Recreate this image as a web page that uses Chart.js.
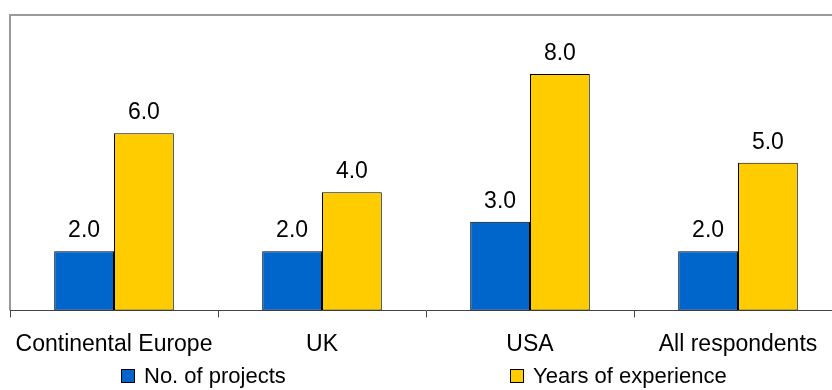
<!DOCTYPE html>
<html>
<head>
<meta charset="utf-8">
<script src="https://cdn.jsdelivr.net/npm/chart.js@4.4.0/dist/chart.umd.min.js"></script>
<style>
  html, body { margin: 0; padding: 0; background: #fff; overflow: hidden; }
  #wrap { width: 842px; height: 390px; }
</style>
</head>
<body>
<div id="wrap"><canvas id="chart" width="842" height="390"></canvas></div>
<script>
  // Chart data
  const regions = ["Continental Europe", "UK", "USA", "All respondents"];
  const projects = [2.0, 2.0, 3.0, 2.0];
  const experience = [6.0, 4.0, 8.0, 5.0];
  const seriesNames = ["No. of projects", "Years of experience"];

  const FONT = "'Liberation Sans', Arial, sans-serif";

  // plot border (top + left, gray like Excel)
  const plotFrame = {
    id: "plotFrame",
    beforeDraw(chart) {
      const { ctx, chartArea: a } = chart;
      ctx.save();
      ctx.strokeStyle = "#999999";
      ctx.lineWidth = 2;
      ctx.beginPath();
      ctx.moveTo(a.left, a.bottom);
      ctx.lineTo(a.left, a.top);
      ctx.lineTo(a.right + 2, a.top);
      ctx.stroke();
      ctx.restore();
    }
  };

  // value labels above bars
  const valueLabels = {
    id: "valueLabels",
    afterDatasetsDraw(chart) {
      const ctx = chart.ctx;
      ctx.save();
      ctx.font = "23px " + FONT;
      ctx.fillStyle = "#000";
      ctx.textAlign = "center";
      ctx.textBaseline = "alphabetic";
      chart.data.datasets.forEach((ds, i) => {
        chart.getDatasetMeta(i).data.forEach((bar, j) => {
          ctx.fillText(ds.data[j].toFixed(1), bar.x, bar.y - 14);
        });
      });
      ctx.restore();
    }
  };

  // legend spread out like the original
  const wideLegend = {
    id: "wideLegend",
    afterDraw(chart) {
      const ctx = chart.ctx;
      const starts = [121, 510];
      ctx.save();
      ctx.font = "22px " + FONT;
      ctx.textBaseline = "middle";
      chart.data.datasets.forEach((ds, i) => {
        const x = starts[i];
        ctx.fillStyle = ds.backgroundColor;
        ctx.fillRect(x + 0.5, 369.5, 13, 13);
        ctx.strokeStyle = "#000";
        ctx.lineWidth = 1;
        ctx.strokeRect(x + 0.5, 369.5, 13, 13);
        ctx.fillStyle = "#000";
        ctx.fillText(ds.label, x + 23, 377);
      });
      ctx.restore();
    }
  };

  new Chart(document.getElementById("chart"), {
    type: "bar",
    data: {
      labels: regions,
      datasets: [
        {
          label: seriesNames[0],
          data: projects,
          backgroundColor: "#0066CC",
          borderColor: "#000",
          borderWidth: 1,
          borderSkipped: false
        },
        {
          label: seriesNames[1],
          data: experience,
          backgroundColor: "#FFCC00",
          borderColor: "#000",
          borderWidth: 1,
          borderSkipped: false
        }
      ]
    },
    options: {
      responsive: false,
      animation: false,
      layout: { padding: { left: 10, top: 15, right: 0, bottom: 19 } },
      datasets: { bar: { barPercentage: 1, categoryPercentage: 0.575 } },
      plugins: {
        legend: { display: false },
        tooltip: { enabled: false }
      },
      scales: {
        x: {
          grid: { offset: true, drawOnChartArea: false, drawTicks: true, tickLength: 7, color: "#444" },
          border: { color: "#444", width: 1 },
          ticks: { color: "#000", padding: 13, font: { family: FONT, size: 23 }, maxRotation: 0, autoSkip: false }
        },
        y: {
          display: false,
          min: 0,
          max: 10
        }
      }
    },
    plugins: [plotFrame, valueLabels, wideLegend]
  });
</script>
</body>
</html>
